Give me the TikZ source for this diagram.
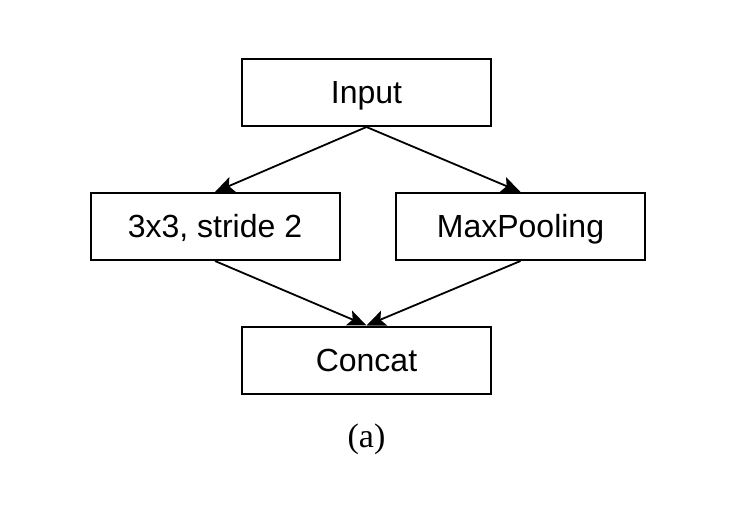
\documentclass[tikz,border=0pt]{standalone}
\usepackage{fontspec}
\setmainfont{Liberation Sans}
\newfontfamily\serifa{Liberation Serif}
\usetikzlibrary{arrows.meta}
\begin{document}
\begin{tikzpicture}[x=1pt,y=-1pt,
  blk/.style={draw, line width=2pt, minimum width=249pt, minimum height=67pt, inner sep=0pt, text height=26pt, text depth=4pt, font=\fontsize{32}{38}\selectfont},
  conn/.style={line width=1.8pt, -{Stealth[length=19pt,width=16pt,inset=4pt]}}]
\useasboundingbox (0,0) rectangle (752,506);
\node[blk] (in) at (366.5,92.5) {Input};
\node[blk] (l) at (215,226.5) {3x3, stride 2};
\node[blk] (r) at (520.5,226.5) {MaxPooling};
\node[blk] (c) at (366.5,360) {Concat};
\node[font=\serifa\fontsize{34}{40}\selectfont] (lab) at (366.5,439) {(a)};
\draw[conn] (in.south) -- (l.north);
\draw[conn] (in.south) -- (r.north);
\draw[conn] (l.south) -- (c.north);
\draw[conn] (r.south) -- (c.north);
\end{tikzpicture}
\end{document}
